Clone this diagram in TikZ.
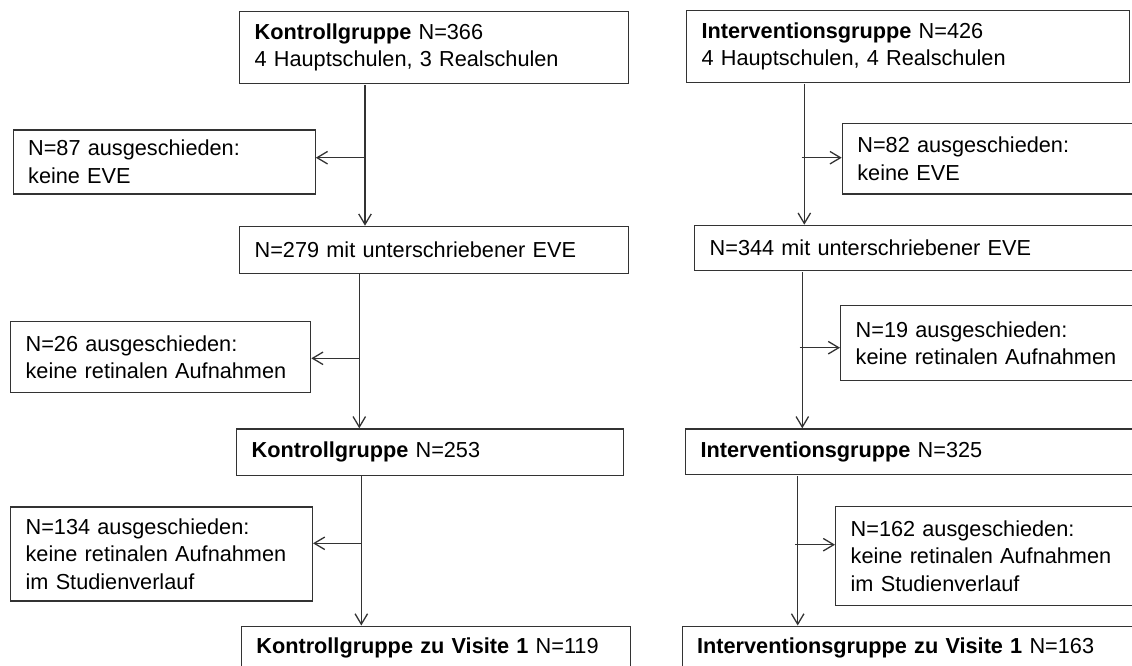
\documentclass[tikz,border=0pt]{standalone}
\usepackage{fontspec}
\setmainfont{Liberation Sans}
\usetikzlibrary{arrows.meta}
\begin{document}
\begin{tikzpicture}[x=1pt,y=-1pt,
  box/.style={draw=black!80, line width=1.3pt, anchor=north west, inner xsep=15pt, inner ysep=0pt,
    align=left, font=\fontsize{21.7}{27.5}\selectfont},
  arr/.style={draw=black!80, line width=1.3pt, -{Straight Barb[length=10.5pt,width=12.5pt,line width=1.3pt]}},
]
\useasboundingbox (0,0) rectangle (1132,666);
\clip (0,0) rectangle (1132,666);
% left column
\node[box, text width=359pt, minimum height=71.7pt] (k1) at (239,11)
  {\textbf{Kontrollgruppe} N=366\\4 Hauptschulen, 3 Realschulen};
\node[box, text width=272pt, minimum height=64pt] (e1) at (12.5,129.3)
  {N=87 ausgeschieden:\\keine EVE};
\node[box, text width=359pt, minimum height=46.8pt] (k2) at (239,225.7)
  {N=279 mit unterschriebener EVE};
\node[box, text width=270pt, minimum height=71.3pt] (e2) at (10,320.7)
  {N=26 ausgeschieden:\\keine retinalen Aufnahmen};
\node[box, text width=357pt, minimum height=46.2pt] (k3) at (236,428.3)
  {\textbf{Kontrollgruppe} N=253};
\node[box, text width=271.7pt, minimum height=94pt] (e3) at (10,506.3)
  {N=134 ausgeschieden:\\keine retinalen Aufnahmen\\im Studienverlauf};
\node[box, text width=359.3pt, minimum height=44pt] (k4) at (240.7,625.5)
  {\textbf{Kontrollgruppe zu Visite 1} N=119};
% right column
\node[box, text width=413pt, minimum height=71.7pt] (i1) at (686,10)
  {\textbf{Interventionsgruppe} N=426\\4 Hauptschulen, 4 Realschulen};
\node[box, text width=300pt, minimum height=70.6pt] (f1) at (841.7,122.7)
  {N=82 ausgeschieden:\\keine EVE};
\node[box, text width=430pt, minimum height=45.3pt] (i2) at (694,224.7)
  {N=344 mit unterschriebener EVE};
\node[box, text width=300pt, minimum height=75pt] (f2) at (840,305)
  {N=19 ausgeschieden:\\keine retinalen Aufnahmen};
\node[box, text width=440pt, minimum height=45.7pt] (i3) at (685,428.3)
  {\textbf{Interventionsgruppe} N=325};
\node[box, text width=300pt, minimum height=98.7pt] (f3) at (835,506)
  {N=162 ausgeschieden:\\keine retinalen Aufnahmen\\im Studienverlauf};
\node[box, text width=440pt, minimum height=44pt] (i4) at (681.5,625.5)
  {\textbf{Interventionsgruppe zu Visite 1} N=163};
% connector coordinates
\coordinate (a1) at (365,85);
\coordinate (b1) at (365,157.7);
\coordinate (a2) at (359.3,274);
\coordinate (b2) at (359.3,358.3);
\coordinate (a3) at (361.3,476);
\coordinate (b3) at (361.3,543.3);
\coordinate (c1) at (804.3,84);
\coordinate (d1) at (801.5,157.7);
\coordinate (c2) at (802.3,272);
\coordinate (d2) at (799.5,347.7);
\coordinate (c3) at (797.7,476);
\coordinate (d3) at (795,544.7);
% left connectors
\draw[arr] (a1) -- (a1 |- k2.north);
\draw[arr] (b1) -- (b1 -| e1.east);
\draw[arr] (a2) -- (a2 |- k3.north);
\draw[arr] (b2) -- (b2 -| e2.east);
\draw[arr] (a3) -- (a3 |- k4.north);
\draw[arr] (b3) -- (b3 -| e3.east);
% right connectors
\draw[arr] (c1) -- (c1 |- i2.north);
\draw[arr] (d1) -- (d1 -| f1.west);
\draw[arr] (c2) -- (c2 |- i3.north);
\draw[arr] (d2) -- (d2 -| f2.west);
\draw[arr] (c3) -- (c3 |- i4.north);
\draw[arr] (d3) -- (d3 -| f3.west);
\end{tikzpicture}
\end{document}
